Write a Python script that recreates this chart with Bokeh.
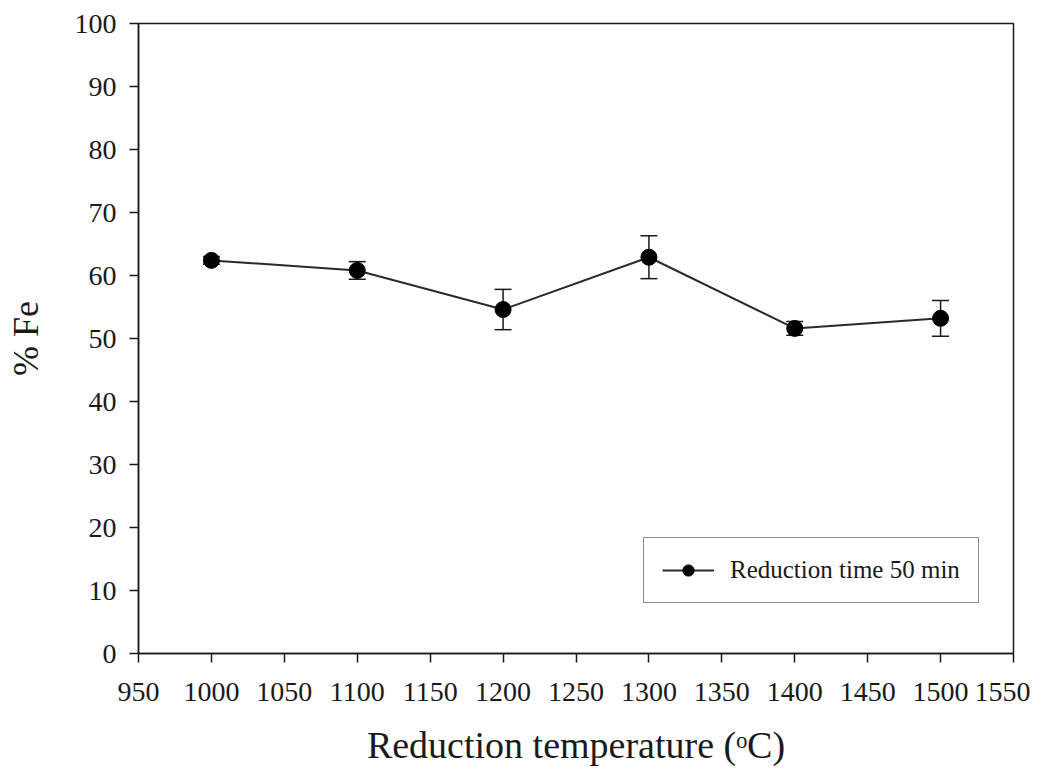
from bokeh.plotting import figure
from bokeh.models import (ColumnDataSource, Range1d, FixedTicker, Whisker, TeeHead,
                          Legend, LegendItem)
from bokeh.embed import file_html
from bokeh.resources import INLINE

# ---- data ----
temperature = [1000, 1100, 1200, 1300, 1400, 1500]
fe_percent = [62.4, 60.8, 54.6, 62.9, 51.6, 53.2]
fe_error = [0.6, 1.4, 3.2, 3.4, 1.1, 2.85]
x_ticks = [950, 1000, 1050, 1100, 1150, 1200, 1250, 1300, 1350, 1400, 1450, 1500, 1550]
y_ticks = [0, 10, 20, 30, 40, 50, 60, 70, 80, 90, 100]
series_name = "Reduction time 50 min"
x_title = "Reduction temperature (\u1d52C)"
y_title = "% Fe"

FONT = "Liberation Serif"
INK = "#1a1a1a"

src = ColumnDataSource(dict(
    x=temperature, y=fe_percent,
    upper=[v + e for v, e in zip(fe_percent, fe_error)],
    lower=[v - e for v, e in zip(fe_percent, fe_error)],
))

p = figure(width=1030, height=772, output_backend="svg", toolbar_location=None,
           x_range=Range1d(950, 1550), y_range=Range1d(0, 100),
           min_border_left=138, min_border_right=17, min_border_top=23,
           min_border_bottom=119)
p.background_fill_color = "white"
p.border_fill_color = "white"
p.outline_line_color = INK
p.outline_line_width = 1.5
p.xgrid.visible = False
p.ygrid.visible = False

for ax in (p.xaxis[0], p.yaxis[0]):
    ax.axis_line_color = INK
    ax.axis_line_width = 1.5
    ax.major_tick_line_color = INK
    ax.major_tick_line_width = 1.5
    ax.major_tick_in = 0
    ax.major_tick_out = 9
    ax.minor_tick_line_color = None
    ax.major_label_text_font = FONT
    ax.major_label_text_color = INK
    ax.axis_label_text_font = FONT
    ax.axis_label_text_font_style = "normal"
    ax.axis_label_text_color = INK
p.xaxis[0].ticker = FixedTicker(ticks=x_ticks)
p.yaxis[0].ticker = FixedTicker(ticks=y_ticks)
p.xaxis[0].major_label_text_font_size = "28px"
p.yaxis[0].major_label_text_font_size = "28px"
p.xaxis[0].major_label_standoff = 20
p.yaxis[0].major_label_standoff = 13
p.xaxis[0].axis_label = x_title
p.xaxis[0].axis_label_text_font_size = "38px"
p.xaxis[0].axis_label_standoff = 20
p.yaxis[0].axis_label = y_title
p.yaxis[0].axis_label_text_font_size = "36px"
p.yaxis[0].axis_label_standoff = 26

# error bars
wh = Whisker(source=src, base="x", upper="upper", lower="lower",
             line_color=INK, line_width=1.5,
             upper_head=TeeHead(size=17, line_color=INK, line_width=1.5),
             lower_head=TeeHead(size=17, line_color=INK, line_width=1.5))
p.add_layout(wh)

ln = p.line("x", "y", source=src, line_color="#2a2a2a", line_width=2)
sc = p.scatter("x", "y", source=src, size=16, fill_color="black", line_color="black")

legend = Legend(items=[LegendItem(label=series_name, renderers=[ln, sc])],
                location=(505, 50), margin=0, padding=18, spacing=0,
                glyph_width=52, glyph_height=28, label_height=28, label_standoff=16,
                label_text_font=FONT, label_text_font_size="25px",
                label_text_color=INK, border_line_color=INK, border_line_width=1,
                background_fill_color="white", background_fill_alpha=1)
p.add_layout(legend, "center")

open("out.html", "w").write(file_html(p, INLINE))
